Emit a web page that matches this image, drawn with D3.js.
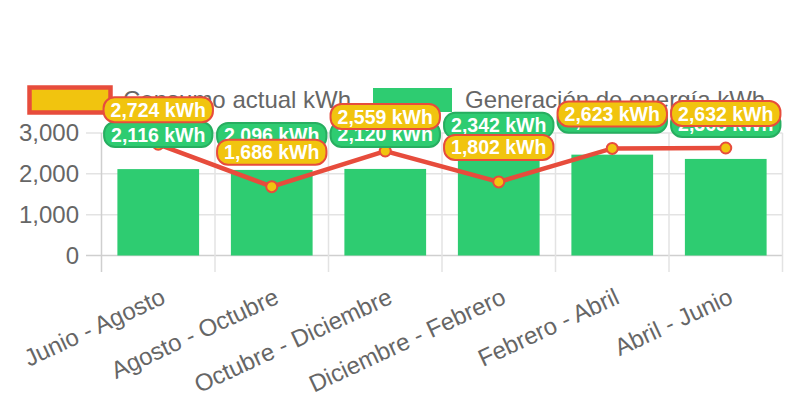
<!DOCTYPE html>
<html>
<head>
<meta charset="utf-8">
<script src="https://cdn.jsdelivr.net/npm/d3@7"></script>
<style>
  body { margin: 0; background: #fff; }
  svg { display: block; font-family: "Helvetica Neue", Helvetica, Arial, "Liberation Sans", sans-serif; }
</style>
</head>
<body>
<script>
var periods = ["Junio - Agosto", "Agosto - Octubre", "Octubre - Diciembre", "Diciembre - Febrero", "Febrero - Abril", "Abril - Junio"];
var consumo = [2724, 1686, 2559, 1802, 2623, 2632];
var generacion = [2116, 2096, 2120, 2342, 2470, 2365];
var yTicks = [0, 1000, 2000, 3000];
var seriesNames = ["Consumo actual kWh", "Generación de energía kWh"];

var width = 792, height = 396;
var green = "#2ecc71", greenDark = "#27ae60", yellow = "#f1c40f", red = "#e74c3c";

var svg = d3.select("body").append("svg").attr("width", width).attr("height", height);

var x = d3.scaleBand().domain(periods).range([101.5, 782.5]).padding(0);
var y = d3.scaleLinear().domain([0, 3000]).range([255.5, 133]);
var fmt = d3.format(",");

// grid
var grid = svg.append("g");
grid.selectAll(".hg")
  .data(yTicks)
  .enter()
  .append("line")
  .attr("x1", 86).attr("x2", 782.5)
  .attr("y1", function(d){ return y(d); })
  .attr("y2", function(d){ return y(d); })
  .attr("stroke", function(d){ return d === 0 ? "#cfcfcf" : "#e3e3e3"; })
  .attr("stroke-width", 1.5);

var vx = periods.map(function(p){ return x(p); }).concat([x.range()[1]]);
grid.selectAll(".vg")
  .data(vx)
  .enter()
  .append("line")
  .attr("x1", function(d){ return d; })
  .attr("x2", function(d){ return d; })
  .attr("y1", y(3000)).attr("y2", 272)
  .attr("stroke", function(d, i){ return i === 0 ? "#cfcfcf" : "#e3e3e3"; })
  .attr("stroke-width", 1.5);

// y tick labels
svg.append("g").selectAll("text")
  .data(yTicks)
  .enter()
  .append("text")
  .attr("x", 79)
  .attr("y", function(d){ return y(d); })
  .attr("dy", "0.35em")
  .attr("text-anchor", "end")
  .attr("font-size", 24)
  .attr("fill", "#666")
  .text(function(d){ return fmt(d); });

// x tick labels
svg.append("g").selectAll("text")
  .data(periods)
  .enter()
  .append("text")
  .attr("transform", function(d){ return "translate(" + (x(d) + x.bandwidth() / 2 + 5) + ",295) rotate(-25)"; })
  .attr("dy", "0.35em")
  .attr("text-anchor", "end")
  .attr("font-size", 24)
  .attr("fill", "#666")
  .text(function(d){ return d; });

// bars
var bw = x.bandwidth() * 0.72;
svg.append("g").selectAll("rect")
  .data(generacion)
  .enter()
  .append("rect")
  .attr("x", function(d, i){ return x(periods[i]) + (x.bandwidth() - bw) / 2; })
  .attr("y", function(d){ return y(d); })
  .attr("width", bw)
  .attr("height", function(d){ return y(0) - y(d); })
  .attr("fill", green);

// line
var cx = function(d, i){ return x(periods[i]) + x.bandwidth() / 2; };
var line = d3.line().x(cx).y(function(d){ return y(d); });
svg.append("path")
  .datum(consumo)
  .attr("d", line)
  .attr("fill", "none")
  .attr("stroke", red)
  .attr("stroke-width", 4.5);

svg.append("g").selectAll("circle")
  .data(consumo)
  .enter()
  .append("circle")
  .attr("cx", cx)
  .attr("cy", function(d){ return y(d); })
  .attr("r", 5.5)
  .attr("fill", yellow)
  .attr("stroke", red)
  .attr("stroke-width", 2);

// legend
var legend = svg.append("g");
legend.append("rect")
  .attr("x", 29.5).attr("y", 87.5).attr("width", 81).attr("height", 25)
  .attr("fill", yellow).attr("stroke", red).attr("stroke-width", 4.5);
legend.append("text")
  .attr("x", 123).attr("y", 100).attr("dy", "0.35em")
  .attr("font-size", 24).attr("fill", "#666")
  .text(seriesNames[0]);
legend.append("rect")
  .attr("x", 373).attr("y", 88).attr("width", 79).attr("height", 24)
  .attr("fill", green);
legend.append("text")
  .attr("x", 465).attr("y", 100).attr("dy", "0.35em")
  .attr("font-size", 24).attr("fill", "#666")
  .text(seriesNames[1]);

// data labels
function labels(values, bg, border) {
  var g = svg.append("g").selectAll("g")
    .data(values)
    .enter()
    .append("g")
    .attr("transform", function(d, i){ return "translate(" + cx(d, i) + "," + (y(d) - 34.5) + ")"; });
  g.append("text")
    .attr("text-anchor", "middle")
    .attr("dy", "0.36em")
    .attr("font-size", 19.5)
    .attr("font-weight", "bold")
    .attr("fill", "#fff")
    .text(function(d){ return fmt(d) + " kWh"; });
  g.insert("rect", "text")
    .each(function(){
      var w = this.parentNode.querySelector("text").getComputedTextLength() + 14;
      d3.select(this)
        .attr("x", -w / 2).attr("y", -12.5)
        .attr("width", w).attr("height", 25)
        .attr("rx", 11).attr("ry", 11);
    })
    .attr("fill", bg)
    .attr("stroke", border)
    .attr("stroke-width", 2);
}
labels(generacion, green, greenDark);
labels(consumo, yellow, red);
</script>
</body>
</html>
